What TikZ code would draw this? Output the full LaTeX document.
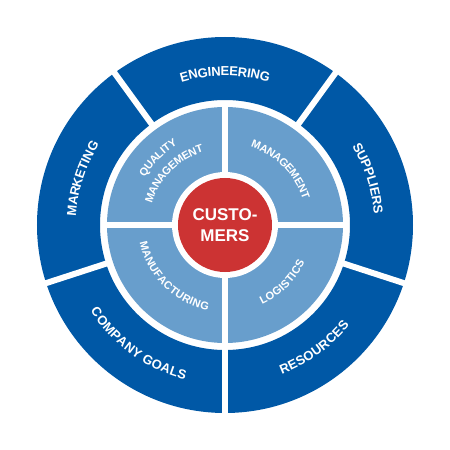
\documentclass[tikz,border=0pt]{standalone}
\usepackage{fontspec}
\setmainfont{Liberation Sans}
\usetikzlibrary{decorations.text}
\definecolor{ringblue}{RGB}{0,88,166}
\definecolor{quadblue}{RGB}{104,158,204}
\definecolor{hubred}{RGB}{204,51,51}

\begin{document}
\begin{tikzpicture}[
        ringtext/.style={
            decorate,
            decoration={
                text along path,
                text align=center,
                text color=white,
                raise=-4.7pt,
                text={|\fontsize{13}{15}\selectfont\bfseries|#1},
            },
        },
        quadtext/.style={
            decorate,
            decoration={
                text along path,
                text align=center,
                text color=white,
                raise=-3.9pt,
                text={|\fontsize{11}{13}\selectfont\bfseries|#1},
            },
        },
        gap/.style={
            draw=white,
            line width=6pt,
        },
        hub/.style={
            circle,
            fill=hubred,
            minimum size=94pt,
            inner sep=0pt,
            text=white,
            align=center,
            font=\fontsize{17}{21}\selectfont\bfseries,
        },
    ]
    \useasboundingbox (-225pt,-225pt) rectangle (225pt,225pt);

    % outer ring
    \fill[ringblue, even odd rule] (0,0) circle[radius=188pt] (0,0) circle[radius=125pt];
    \foreach \a in {54,126,198,270,342}
        \draw[gap] (\a:121pt) -- (\a:192pt);

    % inner ring
    \fill[quadblue] (0,0) circle[radius=118pt];
    \foreach \a in {0,90,180,270}
        \draw[gap] (\a:50pt) -- (\a:121pt);
    \fill[white] (0,0) circle[radius=53pt];

    \node[hub] (cust) at (0,0) {CUSTO-\\MERS};

    % outer labels
    \path[ringtext=MARKETING] (198:154pt) arc[start angle=198, end angle=126, radius=154pt];
    \path[ringtext=ENGINEERING] (126:154pt) arc[start angle=126, end angle=54, radius=154pt];
    \path[ringtext=SUPPLIERS] (54:154pt) arc[start angle=54, end angle=-18, radius=154pt];
    \path[ringtext=RESOURCES] (270:155pt) arc[start angle=270, end angle=342, radius=155pt];
    \path[ringtext=COMPANY GOALS] (198:155pt) arc[start angle=198, end angle=270, radius=155pt];

    % inner labels
    \path[quadtext=QUALITY] (180:97pt) arc[start angle=180, end angle=90, radius=97pt];
    \path[quadtext=MANAGEMENT] (180:80pt) arc[start angle=180, end angle=90, radius=80pt];
    \path[quadtext=MANAGEMENT] (90:86pt) arc[start angle=90, end angle=0, radius=86pt];
    \path[quadtext=MANUFACTURING] (180:83pt) arc[start angle=180, end angle=270, radius=83pt];
    \path[quadtext=LOGISTICS] (270:84pt) arc[start angle=270, end angle=360, radius=84pt];
\end{tikzpicture}
\end{document}
